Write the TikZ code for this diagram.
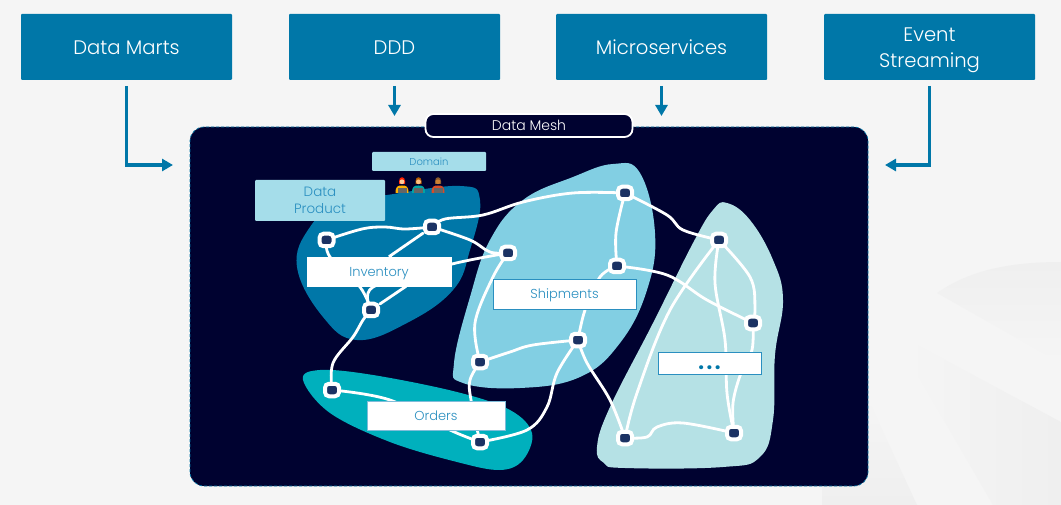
\documentclass[tikz,border=0pt]{standalone}
\usepackage{fontspec}
\setmainfont{Poppins}[UprightFont=*-Light]
\usetikzlibrary{arrows.meta}
\definecolor{pagebg}{HTML}{F5F5F5}
\definecolor{pageshade}{HTML}{EFEFEF}
\definecolor{teamblue}{HTML}{0077A8}
\definecolor{meshnavy}{HTML}{000230}
\definecolor{hubnavy}{HTML}{1B3263}
\definecolor{paleblue}{HTML}{A5DDEA}
\definecolor{skyblob}{HTML}{82CFE3}
\definecolor{tealblob}{HTML}{00B0BD}
\definecolor{mistblob}{HTML}{B5E1E5}
\definecolor{labelblue}{HTML}{2A8FC0}
\pgfdeclarelayer{blobs}
\pgfdeclarelayer{links}
\pgfsetlayers{blobs,links,main}
\tikzset{
  topbox/.style={fill=teamblue, text=white, minimum width=211pt, minimum height=66pt, inner sep=0pt, outer sep=6pt, align=center, font=\fontsize{19.6}{25.5}\selectfont, rounded corners=1pt},
  oneline/.style={text height=15pt, text depth=0pt},
  arrowline/.style={draw=teamblue, line width=3.4pt, -{Triangle[length=11pt,width=12pt]}},
  tagbox/.style={fill=paleblue, text=labelblue, inner sep=0pt, align=center, rounded corners=1pt},
  domainbox/.style={draw=white, fill=white, text=labelblue, inner sep=0pt, text height=10pt, text depth=0pt, font=\fontsize{13}{16}\selectfont},
  hub/.style={rectangle, rounded corners=4pt, fill=hubnavy, draw=white, line width=4pt, minimum width=14pt, minimum height=12.5pt, inner sep=0pt},
  link/.style={draw=white, line width=2.8pt, line cap=round},
  pics/worker/.style n args={3}{code={
    \fill[#1] (-3,-4) .. controls (-3,-9) and (3,-9) .. (3,-4) -- (3,-1) -- (-3,-1) -- cycle;
    \fill[#2] (-6.5,8) .. controls (-6.5,1) and (-4,0.5) .. (0,0.5) .. controls (4,0.5) and (6.5,1) .. (6.5,8) -- cycle;
    \fill[#3] (0,-3.2) circle (2.4pt);
    \fill[black!60] (-4.5,3.5) rectangle (4.5,8);
  }}
}
\begin{document}
\begin{tikzpicture}[x=1pt,y=-1pt]
  \useasboundingbox (0,0) rectangle (1061,505);

  % Page background
  \begin{pgfonlayer}{blobs}
  \fill[pagebg] (0,0) rectangle (1061,505);
  \shade[top color=pageshade, bottom color=pagebg] (937,293) .. controls (970,270) and (1010,262) .. (1061,262) -- (1061,363) -- cycle;
  \shade[left color=pagebg, right color=pageshade] (917,345) -- (1061,422) -- (1061,505) -- (993,505) -- (905,353) -- cycle;
  \shade[top color=pagebg, bottom color=pageshade] (867,397) -- (917,505) -- (822,505) -- (822,480) -- cycle;

  % Mesh panel
  \node[fill=meshnavy, draw=teamblue, densely dashed, line width=0.7pt, rounded corners=14pt, minimum width=678pt, minimum height=359pt, inner sep=0pt] (mesh) at (529,306.5) {};

  % Domain blobs
  \fill[teamblue] plot[smooth cycle, tension=0.7] coordinates {(340,203) (387,195) (460,186) (480,200) (470,250) (453,290) (407,323) (357,340) (323,317) (297,267) (310,227)};
  \fill[skyblob] plot[smooth cycle, tension=0.7] coordinates {(613,164) (640,173) (655,233) (647,290) (620,343) (580,377) (520,388) (463,383) (454,363) (470,297) (490,240) (523,200) (573,177)};
  \fill[mistblob] plot[smooth cycle, tension=0.7] coordinates {(727,203) (750,220) (773,260) (783,300) (775,355) (773,420) (760,457) (723,467) (625,468) (604,463) (597,447) (610,407) (653,323) (693,243) (713,210)};
  \fill[tealblob] plot[smooth cycle, tension=0.6] coordinates {(303,380) (320,370) (373,375) (457,392) (510,410) (532,433) (523,460) (500,470) (457,462) (390,442) (330,413)};
  \end{pgfonlayer}

  % Top boxes
  \node[topbox, oneline] (marts) at (126.5,47) {Data Marts};
  \node[topbox, oneline] (ddd) at (394.5,47) {DDD};
  \node[topbox, oneline] (micro) at (661.5,47) {Microservices};
  \node[topbox] (stream) at (929.5,47) {\rule{0pt}{20pt}Event\\Streaming};

  % Arrows into the mesh
  \coordinate (martsend) at (173,165);
  \coordinate (dddend) at (394.5,116);
  \coordinate (microend) at (661.5,116);
  \coordinate (streamend) at (885,165);
  \draw[arrowline] (marts.south) |- (martsend);
  \draw[arrowline] (ddd.south) -- (dddend);
  \draw[arrowline] (micro.south) -- (microend);
  \draw[arrowline] (stream.south) |- (streamend);

  % Labels
  \node[fill=meshnavy, draw=white, line width=1.8pt, text=white, rounded corners=8pt, minimum width=207pt, minimum height=23pt, inner sep=0pt, text height=11pt, text depth=0pt, font=\fontsize{14}{16}\selectfont] (meshtag) at (529,125.5) {Data Mesh};
  \node[tagbox, minimum width=114pt, minimum height=19pt, text height=9pt, text depth=0pt, font=\fontsize{10}{12}\selectfont] (domain) at (429,161.5) {Domain};
  \node[tagbox, minimum width=130pt, minimum height=41pt, font=\fontsize{13.5}{17}\selectfont] (product) at (320,200.5) {Data\\Product};
  \node[domainbox, minimum width=144pt, minimum height=29pt] (inventory) at (379,271.5) {Inventory};
  \node[domainbox, draw=labelblue, line width=0.6pt, minimum width=143pt, minimum height=30pt] (shipments) at (564.5,294) {Shipments};
  \node[domainbox, draw=labelblue!60, line width=0.4pt, minimum width=138pt, minimum height=29pt] (orders) at (436,415.5) {Orders};
  \node[domainbox, draw=labelblue, line width=0.6pt, minimum width=103pt, minimum height=22pt, text height=12pt, text depth=0pt, text=teamblue, font=\bfseries\fontsize{24}{24}\selectfont\addfontfeature{LetterSpace=8}] (others) at (709.5,363) {...};

  % Team
  \pic at (402,185) {worker={red!75!orange}{orange!60!yellow}{orange!40!white}};
  \pic at (418.5,185) {worker={orange!70!black}{teal!70!cyan}{orange!50!white}};
  \pic at (438,185) {worker={brown!70!black}{brown!60!red}{brown!80!orange}};

  % Hubs
  \node[hub] (h1) at (326.5,240) {};
  \node[hub] (h2) at (432,227) {};
  \node[hub] (h3) at (508,253) {};
  \node[hub] (h4) at (371,310) {};
  \node[hub] (h5) at (332,390) {};
  \node[hub] (h6) at (480,442) {};
  \node[hub] (h7) at (480,362) {};
  \node[hub] (h8) at (578,340) {};
  \node[hub] (h9) at (617,266) {};
  \node[hub] (h10) at (625,193) {};
  \node[hub] (h11) at (719,240) {};
  \node[hub] (h12) at (753,323) {};
  \node[hub] (h13) at (734,433) {};
  \node[hub] (h14) at (625,438) {};

  % Links
  \begin{pgfonlayer}{links}
  \tikzset{every path/.style={link}}
  \draw plot[smooth, tension=0.6] coordinates {(h1) (362,229) (385,227) (405,229) (h2)};
  \draw plot[smooth, tension=0.6] coordinates {(h1) (330,257) (360,287) (h4)};
  \draw (h2) -- (390,256) -- (405,287) -- (h4);
  \draw plot[smooth, tension=0.5] coordinates {(h3) (452,264) (373,287) (h4)};
  \draw plot[smooth, tension=0.6] coordinates {(h2) (445,219) (483,215) (523,202) (573,193) (h10)};
  \draw plot[smooth, tension=0.6] coordinates {(h2) (470,240) (490,252) (h3)};
  \draw plot[smooth, tension=0.6] coordinates {(h3) (493,277) (475,323) (h7)};
  \draw plot[smooth, tension=0.6] coordinates {(h10) (616,233) (h9)};
  \draw plot[smooth, tension=0.6] coordinates {(h10) (667,215) (683,230) (h11)};
  \draw plot[smooth, tension=0.6] coordinates {(h9) (600,277) (585,310) (h8)};
  \draw plot[smooth, tension=0.6] coordinates {(h9) (667,275) (707,300) (h12)};
  \draw plot[smooth, tension=0.6] coordinates {(h11) (750,277) (755,307) (h12)};
  \draw plot[smooth, tension=0.6] coordinates {(h11) (715,283) (725,340) (727,393) (h13)};
  \draw plot[smooth, tension=0.6] coordinates {(h12) (752,350) (741,373) (733,403) (h13)};
  \draw plot[smooth, tension=0.6] coordinates {(h11) (670,310) (637,393) (h14)};
  \draw plot[smooth, tension=0.6] coordinates {(h14) (647,437) (657,427) (683,423) (h13)};
  \draw plot[smooth, tension=0.6] coordinates {(h8) (587,363) (610,400) (h14)};
  \draw plot[smooth, tension=0.6] coordinates {(h8) (557,373) (547,407) (527,430) (h6)};
  \draw plot[smooth, tension=0.6] coordinates {(h8) (533,345) (510,352) (h7)};
  \draw plot[smooth, tension=0.6] coordinates {(h7) (470,380) (471,400) (h6)};
  \draw plot[smooth, tension=0.6] coordinates {(h5) (390,400) (450,430) (h6)};
  \draw plot[smooth, tension=0.6] coordinates {(h4) (363,320) (353,337) (333,363) (h5)};
  \end{pgfonlayer}
\end{tikzpicture}
\end{document}
